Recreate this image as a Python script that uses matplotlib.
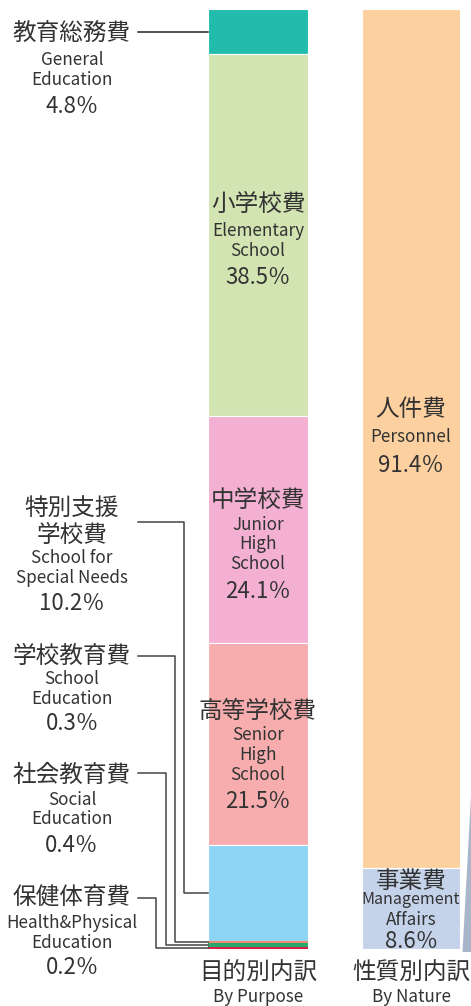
import matplotlib
matplotlib.use("Agg")
import matplotlib.pyplot as plt
import numpy as np

plt.rcParams['font.family'] = ['Noto Sans CJK JP', 'DejaVu Sans']

# ---- data ----
purpose_jp = ["教育総務費", "小学校費", "中学校費", "高等学校費", "特別支援学校費", "学校教育費", "社会教育費", "保健体育費"]
purpose_en = ["General Education", "Elementary School", "Junior High School", "Senior High School",
              "School for Special Needs", "School Education", "Social Education", "Health&Physical Education"]
purpose_pct = [4.8, 38.5, 24.1, 21.5, 10.2, 0.3, 0.4, 0.2]
purpose_colors = ["#21bcac", "#d1e4b2", "#f3b0d2", "#f7adad", "#8dd5f5", "#f08a70", "#2aa86a", "#d6204a"]

nature_jp = ["人件費", "事業費"]
nature_en = ["Personnel", "Management Affairs"]
nature_pct = [91.4, 8.6]
nature_colors = ["#fdd09f", "#c5d3ea"]

axis_labels = [("目的別内訳", "By Purpose"), ("性質別内訳", "By Nature")]

W, H = 471, 1006
fig = plt.figure(figsize=(W / 100, H / 100), dpi=100)
ax = fig.add_axes([0, 0, 1, 1])
TOP, SCALE = 9.0, 9.4  # pixel of 0 %, pixels per percent
def Y(px):
    return (px - TOP) / SCALE
ax.set_xlim(0, W)
ax.set_ylim(Y(H), Y(0))
ax.axis("off")

TXT = "#333333"

# ---- bars ----
pb = np.concatenate([[0], np.cumsum(purpose_pct)[:-1]])
lws = [0.8 if v >= 1 else 0 for v in purpose_pct]
ax.bar(np.full(len(purpose_pct), 258.0), purpose_pct, bottom=pb, width=100,
       color=purpose_colors, edgecolor="white", linewidth=lws)
nb = np.concatenate([[0], np.cumsum(nature_pct)[:-1]])
ax.bar(np.full(len(nature_pct), 411.0), nature_pct, bottom=nb, width=98,
       color=nature_colors, edgecolor="white", linewidth=0.8)

# connector wedge on the right
ax.fill([462.5, 472, 472], [Y(952), Y(778), Y(952)], color="#a9b5c9", lw=0)

pc = pb + np.array(purpose_pct) / 2
nc = nb + np.array(nature_pct) / 2

def stack(x, lines, fs_list, y_list):
    for t, fs, y in zip(lines, fs_list, y_list):
        ax.text(x, Y(y), t, ha="center", va="center", fontsize=fs, color=TXT)

JP, EN, PC = 17, 12.3, 16
def pct(v):
    return f"{v}％"

# left labels
stack(72, [purpose_jp[0], "General", "Education", pct(purpose_pct[0])], [JP, EN, EN, PC], [33, 60, 80, 106])
stack(72, ["特別支援", "学校費", "School for", "Special Needs", pct(purpose_pct[4])], [JP, JP, EN, EN, PC], [508, 535, 558, 578, 603])
stack(72, [purpose_jp[5], "School", "Education", pct(purpose_pct[5])], [JP, EN, EN, PC], [656, 679, 699, 724])
stack(72, [purpose_jp[6], "Social", "Education", pct(purpose_pct[6])], [JP, EN, EN, PC], [775, 800, 819, 845])
stack(72, [purpose_jp[7], "Health&Physical", "Education", pct(purpose_pct[7])], [JP, EN, EN, PC], [898, 923, 943, 968])

# in-bar labels
stack(258, [purpose_jp[1], "Elementary", "School", pct(purpose_pct[1])], [JP, EN, EN, PC], [204, 231, 251, 278])
stack(258, [purpose_jp[2], "Junior", "High", "School", pct(purpose_pct[2])], [JP, EN, EN, EN, PC], [500, 525, 544, 564, 591])
stack(258, [purpose_jp[3], "Senior", "High", "School", pct(purpose_pct[3])], [JP, EN, EN, EN, PC], [711, 735, 755, 775, 801])
stack(411, [nature_jp[0], "Personnel", pct(nature_pct[0])], [JP, EN, PC], [409, 437, 465])
stack(411, [nature_jp[1], "Management", "Affairs", pct(nature_pct[1])], [JP, 11.5, EN, PC], [882, 900, 920, 941])

# axis labels
for x, (jp, en) in zip([258, 411], axis_labels):
    ax.text(x, Y(973), jp, ha="center", va="center", fontsize=JP, color=TXT)
    ax.text(x, Y(997), en, ha="center", va="center", fontsize=EN, color=TXT)

# leader lines
LC = "#444444"
ax.plot([138, 208], [pc[0], pc[0]], color="#222222", lw=1.1)
for y0, xv, idx in [(522, 184, 4), (656, 175, 5), (773, 166, 6), (898, 156, 7)]:
    ax.plot([138, xv, xv, 208], [Y(y0), Y(y0), pc[idx], pc[idx]], color=LC, lw=1.1)

fig.savefig("out.png", dpi=100)
